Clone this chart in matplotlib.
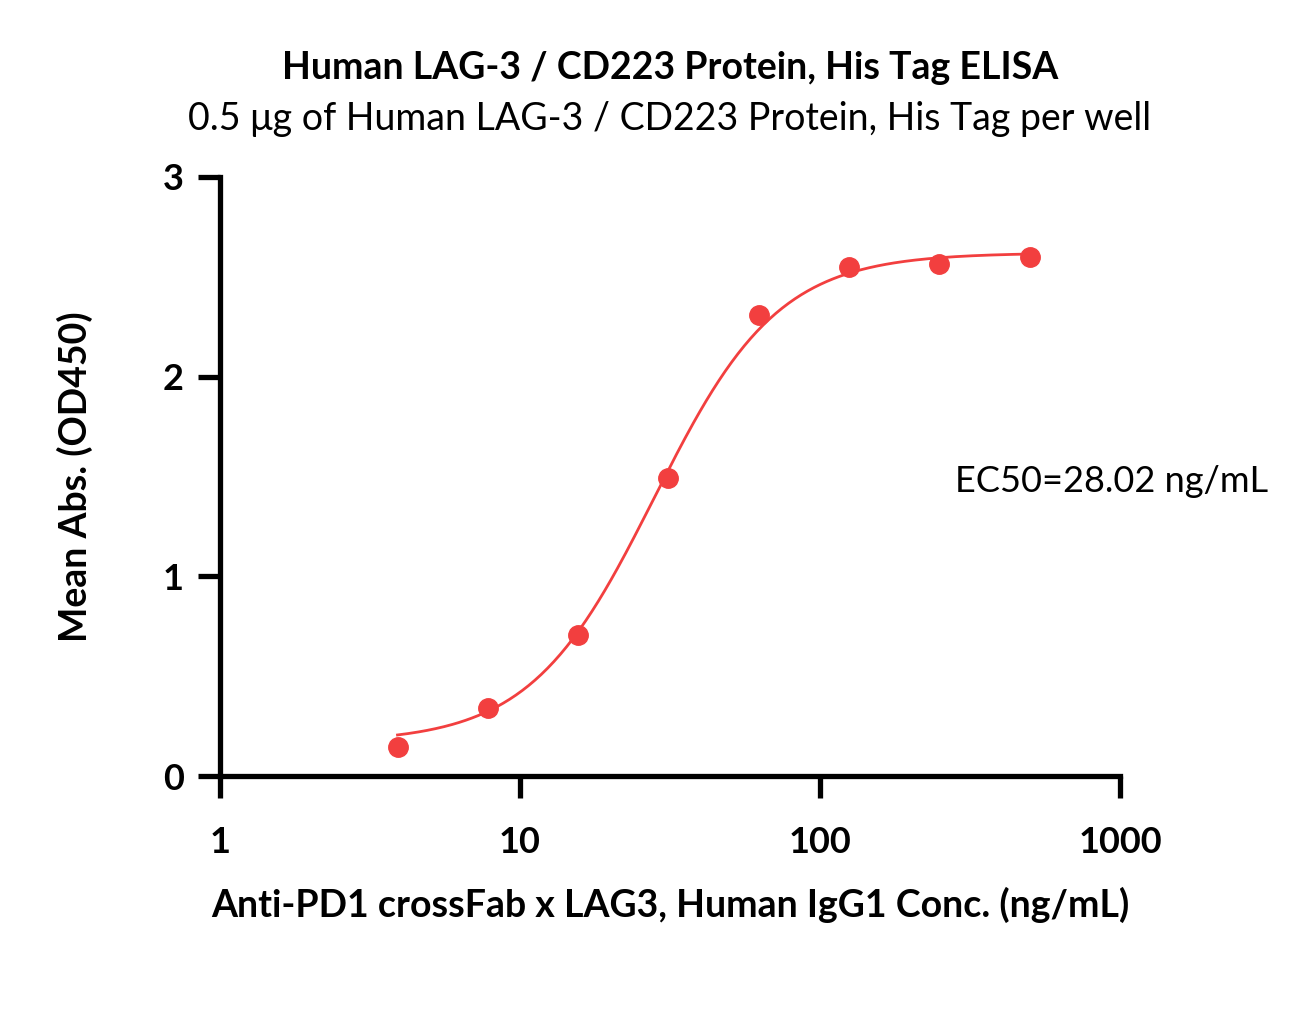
import numpy as np
import matplotlib
matplotlib.use("Agg")
import matplotlib.pyplot as plt
from matplotlib.ticker import FixedLocator, NullLocator

plt.rcParams['font.family'] = ['Lato', 'DejaVu Sans']

# measured points
conc = [3.906, 7.8125, 15.625, 31.25, 62.5, 125, 250, 500]
od450 = [0.145, 0.34, 0.705, 1.49, 2.31, 2.55, 2.565, 2.60]

# 4PL fit parameters
fit_bottom = 0.167
fit_top = 2.62
fit_ec50 = 28.02
fit_hill = 2.1

x_ticks = [1, 10, 100, 1000]
y_ticks = [0, 1, 2, 3]

red = '#F23F3F'

fig = plt.figure(figsize=(13.16, 10.23), dpi=100)
ax = fig.add_axes([220 / 1316, 1 - 776 / 1023, 900 / 1316, 599 / 1023])

xs = np.logspace(np.log10(conc[0]), np.log10(conc[-1]), 300)
ys = fit_bottom + (fit_top - fit_bottom) / (1 + (fit_ec50 / xs) ** fit_hill)
ax.plot(xs, ys, color=red, lw=2.0, zorder=2)
ax.plot(conc, od450, 'o', color=red, markersize=14, zorder=3, clip_on=False)

ax.set_xscale('log')
ax.set_xlim(1, 1000)
ax.set_ylim(0, 3)
ax.xaxis.set_major_locator(FixedLocator(x_ticks))
ax.xaxis.set_minor_locator(NullLocator())
ax.set_xticklabels([str(t) for t in x_ticks])
ax.set_yticks(y_ticks)
ax.set_yticklabels([str(t) for t in y_ticks])

for s in ['top', 'right']:
    ax.spines[s].set_visible(False)
for s in ['left', 'bottom']:
    ax.spines[s].set_linewidth(3.8)
    ax.spines[s].set_capstyle('projecting')
ax.tick_params(axis='both', length=16, width=3.8, direction='out', labelsize=26)
ax.tick_params(axis='x', pad=20)
ax.tick_params(axis='y', pad=10)
for lab in ax.get_xticklabels() + ax.get_yticklabels():
    lab.set_fontweight('bold')

ax.set_xlabel('Anti-PD1 crossFab x LAG3, Human IgG1 Conc. (ng/mL)',
              fontsize=27, fontweight='bold')
ax.xaxis.set_label_coords(0.5, (776 - 905) / 599)
ax.xaxis.label.set_va('center')
ax.set_ylabel('Mean Abs. (OD450)', fontsize=27, fontweight='bold')
ax.yaxis.set_label_coords((75 - 220) / 900, 0.5)
ax.yaxis.label.set_va('center')

fig.text(670 / 1316, 1 - 68 / 1023, 'Human LAG-3 / CD223 Protein, His Tag ELISA',
         ha='center', va='center', fontsize=27, fontweight='bold')
fig.text(670 / 1316, 1 - 119 / 1023,
         '0.5 μg of Human LAG-3 / CD223 Protein, His Tag per well',
         ha='center', va='center', fontsize=27)
ax.text((955 - 220) / 900, (776 - 482) / 599, 'EC50=28.02 ng/mL',
        transform=ax.transAxes, ha='left', va='center', fontsize=26)

fig.savefig('out.png', dpi=100, facecolor='white')
